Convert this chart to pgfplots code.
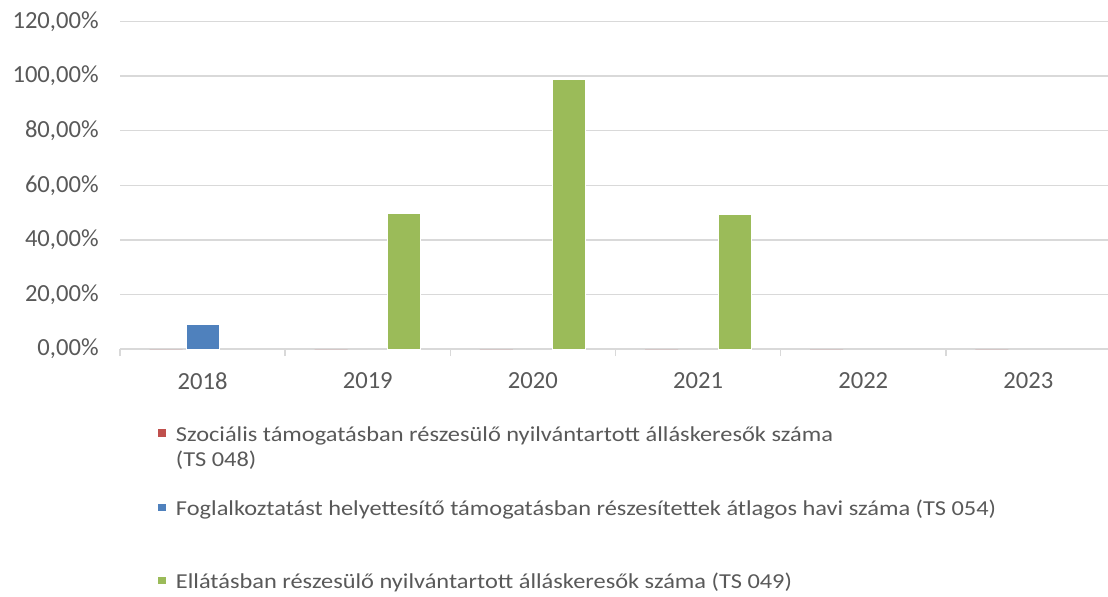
\documentclass[border=0pt]{standalone}
\usepackage{fontspec}
\setmainfont{Carlito}
\newfontfamily\legfont[FakeStretch=1.145]{Carlito}
\usepackage{pgfplots}
\pgfplotsset{compat=1.18}
\definecolor{cred}{HTML}{C0504D}
\definecolor{cblue}{HTML}{4F81BD}
\definecolor{cgreen}{HTML}{9BBB59}
\definecolor{ctext}{HTML}{595959}
\definecolor{cgrid}{HTML}{D9D9D9}
\pgfplotsset{sqlegend/.style={legend image code/.code={\fill[##1] (0pt,1.85pt) rectangle (4.35pt,5.85pt);}}}
\begin{document}
\begin{tikzpicture}[x=1pt,y=1pt]
\path[use as bounding box] (0,0) rectangle (554,298);
\begin{axis}[
  at={(60pt,123.5pt)}, anchor=south west, scale only axis,
  width=495.5pt, height=163.75pt,
  ybar, bar width=16.5pt,
  xmin=-0.5, xmax=5.5, ymin=0, ymax=120,
  axis x line*=bottom, axis y line*=left,
  y axis line style={draw=none},
  x axis line style={cgrid, line width=0.7pt},
  xtick={0,1,2,3,4,5},
  xticklabels={2018,2019,2020,2021,2022,2023},
  xtick style={draw=none},
  ytick style={draw=none},
  extra x ticks={-0.5,0.5,1.5,2.5,3.5,4.5},
  extra x tick labels={},
  extra x tick style={grid=none, major tick length=3.5pt, tick align=outside, xtick style={draw=cgrid, line width=0.7pt}},
  ytick={0,20,40,60,80,100,120},
  ymajorgrids, grid style={cgrid, line width=0.7pt},
  /pgf/number format/assume math mode=true,
  yticklabel={\pgfmathprintnumber[fixed,fixed zerofill,precision=2,use comma]{\tick}\%},
  tick label style={font=\fontsize{12.3}{14}\selectfont, text=ctext, inner sep=0pt},
  yticklabel style={anchor=east},
  yticklabel shift=10.5pt,
  xticklabel shift=7.3pt,
  legend style={at={(axis description cs:0.0376,-0.226)}, anchor=north west, draw=none, fill=none,
    inner sep=0pt, outer sep=0pt, row sep=0pt, column sep=4.5pt,
    font=\legfont\fontsize{10.65}{12.85}\selectfont, text=ctext,
    cells={anchor=base west},
    nodes={inner sep=0pt, text height=9pt, text depth=3.85pt}},
]
\addplot[fill=cred, draw=none, bar shift=-18.25pt, sqlegend] coordinates {(0,0) (1,0) (2,0) (3,0) (4,0) (5,0)};
\addlegendentry{Szociális támogatásban részesülő nyilvántartott álláskeresők száma}
\addlegendimage{empty legend}
\addlegendentry[text depth=15.15pt]{(TS 048)}
\addplot[fill=cblue, draw=white, line width=0.5pt, bar shift=0pt, sqlegend] coordinates {(0,9.1)};
\addlegendentry[text depth=27.5pt]{Foglalkoztatást helyettesítő támogatásban részesítettek átlagos havi száma (TS 054)}
\addplot[fill=cgreen, draw=white, line width=0.5pt, bar shift=18.25pt, sqlegend] coordinates {(1,49.7) (2,98.9) (3,49.4)};
\addlegendentry{Ellátásban részesülő nyilvántartott álláskeresők száma (TS 049)}
\end{axis}
\end{tikzpicture}
\end{document}
